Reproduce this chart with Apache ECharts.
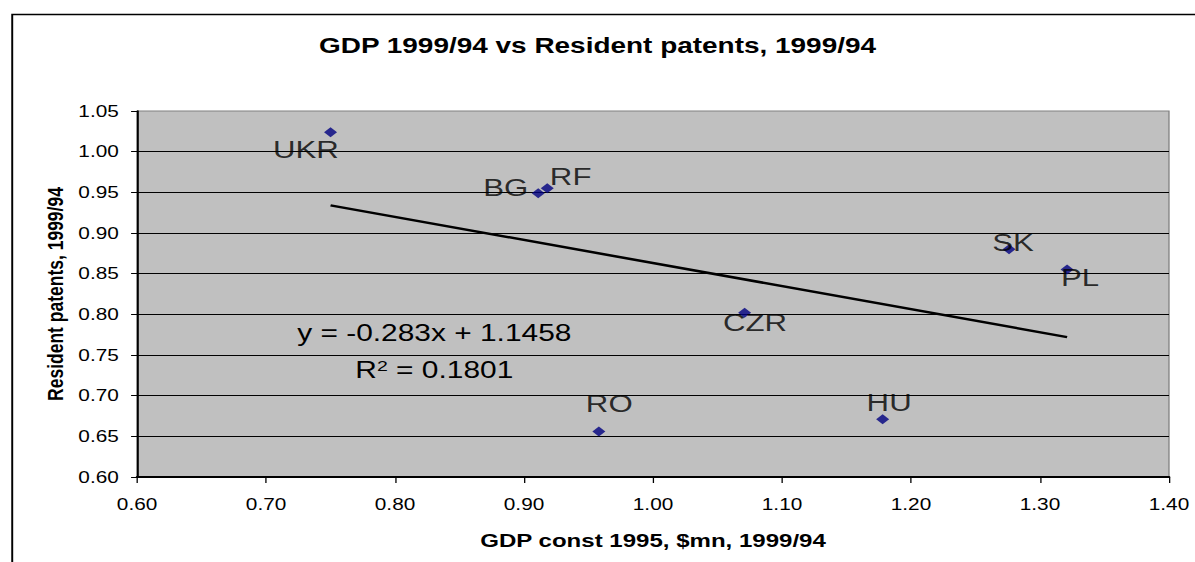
<!DOCTYPE html>
<html>
<head>
<meta charset="utf-8">
<title>GDP 1999/94 vs Resident patents, 1999/94</title>
<script src="https://cdn.jsdelivr.net/npm/echarts@6/dist/echarts.min.js"></script>
<style>
    html, body { margin: 0; padding: 0; background: #fff; overflow: hidden; }
    /* the source picture is stretched sideways, so draw narrow and widen */
    #main { width: 919px; height: 562px; transform: scaleX(1.30033); transform-origin: 0 0; }
</style>
</head>
<body>
<div id="main"></div>
<script>
var countries = ['UKR', 'BG', 'RF', 'CZR', 'SK', 'PL', 'HU', 'RO']
var gdpRatio = [0.750, 0.911, 0.918, 1.071, 1.276, 1.321, 1.178, 0.958]
var patentRatio = [1.024, 0.949, 0.955, 0.802, 0.880, 0.855, 0.671, 0.656]
// linear trend as drawn (ends at min and max x)
var trendX = [0.750, 1.321]
var trendY = [0.934, 0.772]
var trendText = 'y = -0.283x + 1.1458'
var r2Text = '0.1801'

var FONT = '"Liberation Sans", Arial, sans-serif'

// where each country name sits relative to its point
var labelShift = {
    UKR: [-19, 18], BG: [-25, -5], RF: [18, -11], CZR: [8, 10],
    SK: [3, -6], PL: [10, 8], HU: [5, -16], RO: [8, -28]
}

var points = countries.map(function (c, i) {
    return {
        name: c,
        value: [gdpRatio[i], patentRatio[i]],
        label: { offset: labelShift[c] }
    }
})
var trend = trendX.map(function (x, i) { return [x, trendY[i]] })

var myChart = echarts.init(document.getElementById('main'), null, { renderer: 'svg' })
myChart.setOption({
    animation: false,
    backgroundColor: '#fff',
    title: {
        text: 'GDP 1999/94 vs Resident patents, 1999/94',
        left: 'center',
        top: 34,
        padding: 0,
        textStyle: { fontFamily: FONT, fontSize: 21.5, fontWeight: 'bold', color: '#000' }
    },
    grid: {
        left: 105.4,
        right: 20,
        top: 111,
        bottom: 85,
        show: true,
        backgroundColor: '#c0c0c0',
        borderColor: '#808080',
        borderWidth: 1
    },
    xAxis: {
        type: 'value',
        min: 0.6,
        max: 1.4,
        interval: 0.1,
        name: 'GDP const 1995, $mn, 1999/94',
        nameLocation: 'middle',
        nameGap: 54,
        nameMoveOverlap: false,
        nameTextStyle: { fontFamily: FONT, fontSize: 18.5, fontWeight: 'bold', color: '#000' },
        axisLine: { lineStyle: { color: '#000', width: 2 } },
        axisTick: { show: true, length: 6, lineStyle: { color: '#000', width: 1 } },
        axisLabel: {
            margin: 19,
            fontFamily: FONT, fontSize: 16, color: '#000',
            formatter: function (v) { return v.toFixed(2) }
        },
        splitLine: { show: false }
    },
    yAxis: {
        type: 'value',
        min: 0.6,
        max: 1.05,
        interval: 0.05,
        name: 'Resident patents, 1999/94',
        nameLocation: 'middle',
        nameGap: 54,
        nameMoveOverlap: false,
        nameTextStyle: { fontFamily: FONT, fontSize: 17.5, fontWeight: 'bold', color: '#000' },
        axisLine: { show: true, lineStyle: { color: '#000', width: 1.5 } },
        axisTick: { show: true, length: 4.6, lineStyle: { color: '#000', width: 1 } },
        axisLabel: {
            margin: 14,
            fontFamily: FONT, fontSize: 16, color: '#000',
            formatter: function (v) { return v.toFixed(2) }
        },
        splitLine: { show: true, showMaxLine: false, lineStyle: { color: '#000', width: 1 } }
    },
    graphic: [
        {
            // chart area frame, runs off the right and bottom edges
            type: 'rect',
            left: 6.9,
            top: 12,
            shape: { width: 3000, height: 3000 },
            style: { fill: 'none', stroke: '#000', lineWidth: 1.5 },
            silent: true
        },
        {
            type: 'text',
            x: 334, y: 333,
            style: {
                text: trendText,
                font: '23px ' + FONT,
                fill: '#000',
                align: 'center',
                verticalAlign: 'middle'
            }
        },
        {
            type: 'text',
            x: 334, y: 370,
            style: {
                text: 'R{sup|2} = ' + r2Text,
                font: '23px ' + FONT,
                fill: '#000',
                align: 'center',
                verticalAlign: 'middle',
                rich: {
                    sup: { fontSize: 15, fontFamily: FONT, verticalAlign: 'top', fill: '#000' }
                }
            }
        }
    ],
    series: [
        {
            name: 'trend',
            type: 'line',
            data: trend,
            symbol: 'none',
            lineStyle: { color: '#000', width: 2.5 },
            z: 3
        },
        {
            name: 'countries',
            type: 'scatter',
            data: points,
            symbol: 'diamond',
            symbolSize: 10,
            itemStyle: { color: '#000080' },
            label: {
                show: true,
                position: 'inside',
                formatter: '{b}',
                fontFamily: FONT,
                fontSize: 24,
                color: '#000',
                align: 'center',
                verticalAlign: 'middle'
            },
            z: 4
        }
    ]
})
</script>
</body>
</html>
